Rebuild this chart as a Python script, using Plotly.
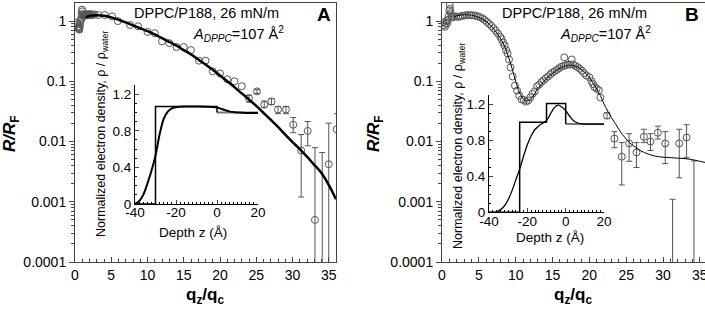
import plotly.graph_objects as go

W, H = 705, 310

# ---------------- Panel A data ----------------
qa_pts = [0.3, 0.35, 0.4, 0.45, 0.5, 0.55, 0.6, 0.65, 0.7, 0.75, 0.8, 0.85, 0.9, 0.95, 1.0, 1.05,
          1.1, 1.2, 1.3, 1.4, 1.5, 1.6, 1.7, 1.8, 1.9, 2.0, 2.1, 2.2, 2.35, 2.5, 2.7,
          3.2, 4.1, 5.1, 5.9, 7.6, 8.7, 10.0, 11.0, 12.0, 13.0, 14.0, 15.0, 16.0, 17.1, 18.0,
          19.0, 20.0, 21.0, 22.0, 23.0]
ra_pts = [0.95, 0.88, 0.82, 0.78, 0.76, 0.74, 0.72, 0.8, 0.9, 1.0, 1.05, 1.1, 1.3, 1.55, 1.45, 1.3,
          1.2, 1.25, 1.22, 1.28, 1.25, 1.3, 1.27, 1.25, 1.3, 1.28, 1.26, 1.3, 1.28, 1.27, 1.29,
          1.26, 1.26, 1.2, 1.0, 0.86, 0.82, 0.66, 0.63, 0.46, 0.43, 0.37, 0.37, 0.33, 0.22, 0.22,
          0.146, 0.135, 0.108, 0.1, 0.083]

qa_err = [24.0, 25.1, 26.1, 27.1, 28.0, 29.1, 30.1, 31.2, 32.1, 33.1, 34.1, 35.0, 36.1]
ra_err = [0.052, 0.068, 0.041, 0.046, 0.034, 0.034, 0.019, 0.0071, 0.015, 0.0005, 0.00006, 0.0042, 0.016]
ra_up = [0.007, 0.005, 0.006, 0.006, 0.004, 0.004, 0.006, 0.006, 0.0065, 0.0074, 0.0065, 0.016, 0.013]
ra_dn = [0.007, 0.005, 0.004, 0.005, 0.005, 0.005, 0.005, 0.0059, 0.0065, 0.0006, 0.0001, 0.005, 0.02]

qa_fit = [1.5, 2, 3, 4, 5, 6, 7, 8, 9, 10, 11, 12, 13, 14, 15, 16, 17, 18, 19, 20, 21, 22, 23, 24,
          25, 26, 27, 28, 29, 30, 31, 32, 33, 34, 35, 36]
ra_fit = [1.15, 1.22, 1.25, 1.23, 1.15, 1.05, 0.95, 0.85, 0.76, 0.68, 0.6, 0.52, 0.45, 0.39, 0.33,
          0.28, 0.23, 0.19, 0.155, 0.125, 0.1, 0.08, 0.063, 0.05, 0.039, 0.03, 0.023, 0.0175,
          0.013, 0.0098, 0.0075, 0.0056, 0.0041, 0.003, 0.0019, 0.0011]

# inset A (electron density)
za_box = [-40, -30, -30, 0, 0]
rho_a_box = [0, 0, 1.066, 1.066, 1.0]
za_water = [0, 20]
rho_a_water = [1.0, 1.0]
za_prof = [-40, -38, -36, -34, -32, -30, -28, -26, -24, -22, -20, -15, -10, -5, 0, 2, 4, 6, 8, 10, 14, 20]
rho_a_prof = [0.0, 0.03, 0.1, 0.22, 0.36, 0.53, 0.76, 0.93, 1.01, 1.045, 1.058, 1.065, 1.065, 1.063,
              1.055, 1.04, 1.025, 1.012, 1.004, 1.0, 0.995, 0.995]

# ---------------- Panel B data ----------------
qb_pts = [0.2, 0.3, 0.4, 0.5, 0.6, 0.7, 0.8, 0.9, 1.0, 1.05, 1.1, 1.2, 1.3, 1.4,
          1.6, 1.9, 2.2, 2.5, 2.8, 3.1, 3.4, 3.7, 4.0, 4.3, 4.6, 4.9, 5.2, 5.5, 5.8, 6.1, 6.4,
          6.7, 7.0, 7.3, 7.6, 7.9, 8.1, 8.3, 8.5, 8.7, 8.9, 9.1, 9.3, 9.6, 9.9, 10.2, 10.5,
          10.8, 11.1, 11.4, 11.7, 12.0, 12.3, 12.6, 12.9, 13.2, 13.5, 13.8, 14.1, 14.4, 14.7,
          15.0, 15.3, 15.6, 15.9, 16.2, 16.5, 16.6, 16.8, 17.1, 17.4, 17.6, 17.8, 18.1, 18.4,
          18.7, 19.0, 19.3, 19.6, 20.0, 20.3, 20.5, 20.7, 21.0, 21.3, 21.5]
rb_pts = [0.95, 0.85, 0.8, 0.9, 1.0, 0.92, 1.05, 1.2, 1.5, 1.85, 1.6, 1.35, 1.2, 1.15,
          1.18, 1.2, 1.17, 1.2, 1.22, 1.24, 1.25, 1.26, 1.25, 1.24, 1.22, 1.19, 1.16, 1.1, 1.04,
          0.97, 0.9, 0.83, 0.76, 0.69, 0.62, 0.55, 0.5, 0.44, 0.39, 0.33, 0.29, 0.23, 0.17,
          0.12, 0.085, 0.07, 0.058, 0.05, 0.049, 0.046, 0.048, 0.054, 0.062, 0.068, 0.083,
          0.088, 0.097, 0.104, 0.113, 0.12, 0.13, 0.14, 0.147, 0.155, 0.165, 0.175, 0.18, 0.25,
          0.185, 0.19, 0.19, 0.23, 0.19, 0.18, 0.172, 0.162, 0.15, 0.136, 0.125, 0.117, 0.1,
          0.09, 0.08, 0.076, 0.071, 0.054]

qb_err = [22.4, 23.4, 24.4, 25.4, 26.4, 27.4, 28.3, 29.3, 30.3, 31.3, 32.2, 33.2, 34.2]
rb_err = [0.027, 0.0112, 0.0056, 0.0093, 0.0066, 0.012, 0.01, 0.014, 0.0093, 0.00006, 0.0093, 0.0117, 0.00006]
rb_up = [0.003, 0.0034, 0.004, 0.0042, 0.003, 0.004, 0.0035, 0.004, 0.0053, 0.00104, 0.0067, 0.0073, 0.0047]
rb_dn = [0.003, 0.0033, 0.0037, 0.0046, 0.0029, 0.0024, 0.0029, 0.003, 0.005, 0.0001, 0.0068, 0.0063, 0.0001]

qb_fit = [1.5, 2, 3, 4, 5, 6, 7, 8, 8.5, 9, 9.5, 10, 10.5, 11, 11.5, 12, 12.5, 13, 14, 15, 16,
          17, 18, 19, 20, 21, 21.5, 22, 22.5, 23, 23.5, 24, 24.5, 25, 25.5, 26, 27, 28, 29, 30,
          31, 32, 33, 34, 35, 35.7]
rb_fit = [1.15, 1.22, 1.27, 1.25, 1.15, 0.98, 0.75, 0.5, 0.38, 0.26, 0.165, 0.1, 0.066, 0.052,
          0.047, 0.05, 0.06, 0.075, 0.105, 0.135, 0.165, 0.185, 0.18, 0.155, 0.115, 0.075, 0.058,
          0.042, 0.032, 0.025, 0.02, 0.016, 0.013, 0.011, 0.0095, 0.0085, 0.007, 0.0062, 0.0057,
          0.0055, 0.0054, 0.0053, 0.0052, 0.005, 0.0047, 0.0045]

# inset B
zb_box = [-40, -24, -24, -10, -10, 0, 0]
rho_b_box = [0, 0, 1.0, 1.0, 1.21, 1.21, 0.98]
zb_water = [0, 20]
rho_b_water = [0.98, 0.98]
zb_prof = [-40, -37, -34, -32, -30, -28, -26, -24, -22, -20, -18, -16, -14, -12, -10, -8, -6,
           -4, -2, 0, 2, 4, 6, 8, 10, 14, 20]
rho_b_prof = [0, 0.0, 0.03, 0.07, 0.14, 0.24, 0.36, 0.48, 0.62, 0.75, 0.85, 0.92, 0.96, 0.99,
              1.02, 1.09, 1.16, 1.19, 1.17, 1.13, 1.07, 1.02, 0.995, 0.985, 0.98, 0.98, 0.98]

ytickvals = [0.0001, 0.001, 0.01, 0.1, 1]
yticktext = ["0.0001", "0.001", "0.01", "0.1", "1"]

FONT = "Arial, Liberation Sans, sans-serif"
MARK = dict(symbol="circle-open", size=7, color="#555", line=dict(width=1, color="#555"))

fig = go.Figure()

def px(x):
    return x / W

def py(y):
    return 1 - y / H

# Panel A
fig.add_trace(go.Scatter(x=qa_pts, y=ra_pts, mode="markers", marker=MARK, xaxis="x", yaxis="y"))
fig.add_trace(go.Scatter(x=qa_err, y=ra_err, mode="markers", marker=MARK, xaxis="x", yaxis="y",
                         error_y=dict(type="data", array=ra_up, arrayminus=ra_dn, color="#555",
                                      thickness=1, width=3)))
fig.add_trace(go.Scatter(x=qa_fit, y=ra_fit, mode="lines", line=dict(color="black", width=2.5),
                         line_shape="spline", xaxis="x", yaxis="y"))
# Panel B
fig.add_trace(go.Scatter(x=qb_pts, y=rb_pts, mode="markers", marker=MARK, xaxis="x2", yaxis="y2"))
fig.add_trace(go.Scatter(x=qb_err, y=rb_err, mode="markers", marker=MARK, xaxis="x2", yaxis="y2",
                         error_y=dict(type="data", array=rb_up, arrayminus=rb_dn, color="#555",
                                      thickness=1, width=3)))
fig.add_trace(go.Scatter(x=qb_fit, y=rb_fit, mode="lines", line=dict(color="black", width=1),
                         line_shape="spline", xaxis="x2", yaxis="y2"))
# Inset A
fig.add_trace(go.Scatter(x=za_water, y=rho_a_water, mode="lines", line=dict(color="#777", width=2),
                         xaxis="x3", yaxis="y3"))
fig.add_trace(go.Scatter(x=za_box, y=rho_a_box, mode="lines", line=dict(color="black", width=1.5),
                         xaxis="x3", yaxis="y3"))
fig.add_trace(go.Scatter(x=za_prof, y=rho_a_prof, mode="lines", line=dict(color="black", width=2),
                         line_shape="spline", xaxis="x3", yaxis="y3"))
# Inset B
fig.add_trace(go.Scatter(x=zb_water, y=rho_b_water, mode="lines", line=dict(color="#777", width=2),
                         xaxis="x4", yaxis="y4"))
fig.add_trace(go.Scatter(x=zb_box, y=rho_b_box, mode="lines", line=dict(color="black", width=1.5),
                         xaxis="x4", yaxis="y4"))
fig.add_trace(go.Scatter(x=zb_prof, y=rho_b_prof, mode="lines", line=dict(color="black", width=1.3),
                         line_shape="spline", xaxis="x4", yaxis="y4"))

main_x = dict(showline=True, linecolor="#444", linewidth=1, mirror=True, ticks="inside", ticklen=5,
              tickcolor="#444", dtick=5, tick0=0, showgrid=False, zeroline=False, automargin=False,
              ticklabeloverflow="allow",
              tickfont=dict(size=14, color="black", family=FONT),
              minor=dict(ticks="inside", ticklen=3, dtick=1, tickcolor="#444", showgrid=False))
main_y = dict(type="log", range=[-4, 0.3], showline=True, linecolor="#444", linewidth=1, mirror=True,
              ticks="outside", ticklen=5, tickcolor="#444", tickvals=ytickvals, ticktext=yticktext,
              showgrid=False, zeroline=False, automargin=False,
              tickfont=dict(size=14, color="black", family=FONT),
              minor=dict(ticks="outside", ticklen=3, dtick="D1", tickcolor="#444", showgrid=False))
ins_x = dict(range=[-40, 20], showline=True, linecolor="black", linewidth=1, ticks="inside", ticklen=4,
             tickvals=[-40, -20, 0, 20], ticktext=["-40", "-20", "0", "20"], showgrid=False, zeroline=False,
             automargin=False, ticklabelstandoff=-4,
             tickfont=dict(size=13.5, color="black", family=FONT),
             minor=dict(ticks="inside", ticklen=2, dtick=2, tickcolor="black", showgrid=False))
ins_y = dict(range=[0, 1.3], showline=True, linecolor="black", linewidth=1, ticks="inside", ticklen=4,
             tickvals=[0, 0.4, 0.8, 1.2], ticktext=["0", "0.4", "0.8", "1.2"], showgrid=False,
             zeroline=False, automargin=False, tickfont=dict(size=13.5, color="black", family=FONT),
             minor=dict(ticks="inside", ticklen=2, dtick=0.1, tickcolor="black", showgrid=False))

fig.update_layout(
    width=W, height=H, margin=dict(l=0, r=0, t=0, b=0, autoexpand=False), showlegend=False,
    paper_bgcolor="white", plot_bgcolor="rgba(0,0,0,0)", hovermode=False,
    font=dict(family=FONT, color="black"),
    xaxis=dict(main_x, domain=[px(75), px(336)], range=[0, 36], anchor="y"),
    yaxis=dict(main_y, domain=[py(262), py(3)], anchor="x"),
    xaxis2=dict(main_x, domain=[px(442), 1.0], range=[0, 35.7], anchor="y2"),
    yaxis2=dict(main_y, domain=[py(262), py(3)], anchor="x2"),
    xaxis3=dict(ins_x, domain=[px(135), px(258)], anchor="y3"),
    yaxis3=dict(ins_y, domain=[py(204), py(85)], anchor="x3"),
    xaxis4=dict(ins_x, domain=[px(489), px(604)], anchor="y4"),
    yaxis4=dict(ins_y, domain=[py(212.3), py(95.3)], anchor="x4"),
)

def ann(x, y, text, size, angle=0):
    fig.add_annotation(x=px(x), y=py(y), xref="paper", yref="paper", text=text, showarrow=False,
                       xanchor="center", yanchor="middle", textangle=angle,
                       font=dict(size=size, family=FONT, color="black"))

for (cx, lab, cax, cqx, cinx, ciny_x, ciny_y, cinsx_y) in [
        (207, "A", 324, 205.5, 193, 102, 134, 232),
        (574, "B", 692, 573, 550, 459, 146, 237)]:
    ann(cx, 13, "DPPC/P188, 26 mN/m", 14.5)
    ann(cx + 31, 34, "<i>A</i><sub><i>DPPC</i></sub>=107 Å<sup>2</sup>", 14.5)
    ann(cax, 15, "<b>" + lab + "</b>", 19)
    ann(cqx, 296, "<b>q<sub>z</sub>/q<sub>c</sub></b>", 17)
    ann(cinx, cinsx_y, "Depth z (Å)", 13.5)
    ann(ciny_x, ciny_y, "Normalized electron density, ρ / ρ<sub>water</sub>", 12.5, angle=-90)

ann(11, 134, "<b><i>R/R</i><sub>F</sub></b>", 17, angle=-90)
ann(375, 134, "<b><i>R/R</i><sub>F</sub></b>", 17, angle=-90)

fig.write_html("out.html", config={"displayModeBar": False, "staticPlot": True},
               post_script="document.body.style.margin='0';document.body.style.overflow='hidden';")
